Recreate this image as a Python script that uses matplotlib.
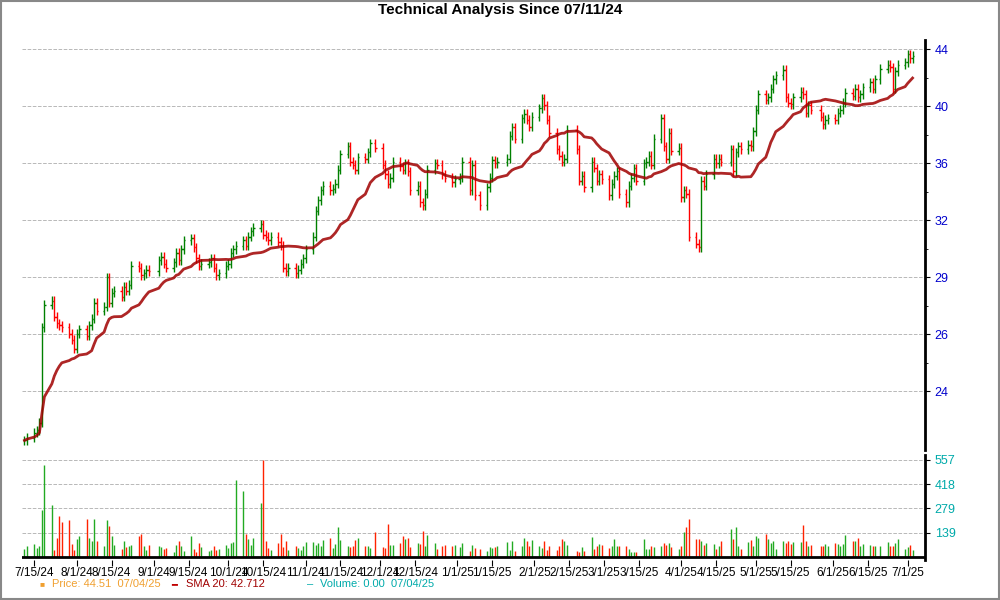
import numpy as np
import pandas as pd
import matplotlib
matplotlib.use("Agg")
import matplotlib.pyplot as plt
import matplotlib.dates as mdates

plt.rcParams["font.family"] = ["Liberation Sans", "DejaVu Sans"]

# daily closes (Jul 2024 -> Jul 2025)
close_jul24 = [21.9, 22.0, 22.2, 22.3, 22.6, 26.8, 27.9, 28.1, 27.3, 27.0, 26.9, 26.8, 26.5, 26.2, 25.8]
close_aug24 = [26.5, 26.7, 26.4, 26.9, 27.2, 28.0, 27.6, 27.8, 29.3, 28.0, 28.5, 28.6, 28.3, 28.8, 28.6,
               28.9, 29.9, 29.8, 29.4, 29.5, 29.7, 29.6]
close_sep24 = [30.2, 30.4, 30.0, 29.8, 30.1, 30.6, 30.2, 30.8, 31.3, 31.4, 30.9, 30.3, 29.9, 30.0, 30.1,
               30.3, 29.8, 29.4, 29.5, 29.9]
close_oct24 = [30.0, 30.6, 30.8, 31.0, 31.3, 31.0, 31.5, 31.8, 32.0, 32.2, 31.6, 31.5, 31.3, 31.5, 31.2,
               31.0, 29.8, 29.6, 29.8, 29.5, 29.7, 30.0, 30.3]
close_nov24 = [30.8, 31.5, 33.0, 33.6, 34.2, 34.5, 34.2, 34.3, 34.6, 35.5, 36.5, 37.0, 36.0, 35.8, 35.5,
               36.3, 36.2, 36.6, 37.2, 36.9]
close_dec24 = [35.8, 35.2, 34.6, 35.0, 36.0, 35.7, 35.5, 35.9, 35.4, 34.2, 34.5, 33.5, 33.3, 34.0, 35.5,
               35.9, 35.8, 35.2, 35.0, 34.7, 34.9]
close_jan25 = [35.0, 36.0, 34.2, 35.8, 33.9, 33.3, 34.4, 35.0, 36.1, 35.9, 36.0, 36.2, 37.7, 38.3, 37.5,
               38.9, 39.2, 38.8, 38.3, 39.0]
close_feb25 = [39.6, 40.3, 39.8, 38.8, 37.9, 36.8, 36.4, 36.0, 36.2, 38.1, 36.8, 34.8, 35.1, 34.4, 36.0,
               35.6, 34.8, 35.2, 34.9]
close_mar25 = [33.9, 34.6, 35.1, 35.4, 34.0, 33.5, 34.5, 35.0, 35.6, 34.8, 35.9, 36.0, 36.4, 35.8, 37.5,
               38.9, 37.0, 36.2, 37.9, 36.7, 36.9]
close_apr25 = [33.8, 34.2, 34.0, 31.5, 31.1, 30.9, 34.8, 34.5, 35.2, 36.2, 35.9, 36.2, 36.0, 36.8, 35.4,
               36.6, 37.0, 36.8, 37.1, 37.0, 38.0]
close_may25 = [39.5, 40.6, 40.2, 40.4, 41.0, 41.7, 42.0, 42.4, 40.4, 40.0, 39.9, 40.4, 40.8, 40.6, 39.3,
               39.8, 39.5, 39.0, 38.5, 38.8, 38.9]
close_jun25 = [38.8, 39.3, 39.5, 40.0, 40.7, 40.5, 41.0, 40.4, 40.6, 41.1, 41.5, 41.0, 41.7, 42.5, 42.8,
               42.6, 41.0, 42.3, 42.8, 43.0]
close_jul25 = [43.6, 43.3, 43.5]

# volume (thousands), one per day, same order
vol_jul24 = [45, 60, 75, 50, 65, 270, 528, 300, 40, 110, 235, 200, 210, 75, 40]
vol_aug24 = [100, 120, 220, 110, 90, 215, 90, 60, 210, 175, 120, 70, 45, 90, 55, 60, 70, 120, 130, 60, 40, 70]
vol_sep24 = [60, 55, 45, 50, 30, 70, 90, 60, 35, 120, 45, 30, 80, 55, 35, 40, 60, 40, 45, 70]
vol_oct24 = [50, 80, 85, 440, 380, 130, 100, 70, 110, 310, 557, 90, 50, 40, 80, 130, 55, 90, 40, 65, 50, 40, 60]
vol_nov24 = [85, 85, 70, 80, 60, 95, 110, 50, 75, 170, 95, 60, 55, 60, 95, 110, 60, 65, 50, 140]
vol_dec24 = [55, 50, 190, 70, 70, 80, 120, 100, 110, 55, 80, 75, 150, 60, 125, 80, 45, 60, 70, 60, 70]
vol_jan25 = [55, 80, 35, 70, 50, 45, 35, 55, 50, 55, 60, 85, 40, 90, 35, 60, 110, 90, 60, 95]
vol_feb25 = [60, 50, 90, 40, 65, 40, 60, 100, 90, 70, 35, 25, 55, 35, 115, 45, 60, 75, 70]
vol_mar25 = [50, 60, 105, 65, 65, 60, 45, 25, 30, 30, 105, 45, 45, 60, 55, 60, 80, 70, 80, 55, 45]
vol_apr25 = [60, 140, 170, 215, 100, 100, 90, 70, 80, 75, 45, 60, 90, 160, 105, 170, 60, 45, 85, 95, 60]
vol_may25 = [120, 110, 130, 100, 80, 90, 45, 90, 80, 90, 75, 85, 85, 185, 90, 60, 70, 65, 60, 75, 60]
vol_jun25 = [80, 75, 65, 75, 125, 90, 90, 110, 65, 75, 70, 60, 65, 60, 85, 60, 65, 80, 100, 45]
vol_jul25 = [55, 70, 40]

price_ticks = [44, 40, 36, 32, 29, 26, 24]
vol_ticks = [139, 279, 418, 557]

closes = (close_jul24 + close_aug24 + close_sep24 + close_oct24 + close_nov24 + close_dec24
          + close_jan25 + close_feb25 + close_mar25 + close_apr25 + close_may25 + close_jun25 + close_jul25)
vols = (vol_jul24 + vol_aug24 + vol_sep24 + vol_oct24 + vol_nov24 + vol_dec24
        + vol_jan25 + vol_feb25 + vol_mar25 + vol_apr25 + vol_may25 + vol_jun25 + vol_jul25)
n = min(len(closes), len(vols))
closes, vols = closes[:n], vols[:n]

holidays = ["2024-09-02", "2024-11-28", "2024-12-25", "2025-01-01", "2025-01-09", "2025-01-20",
            "2025-02-17", "2025-04-18", "2025-05-26", "2025-06-19"]
dates = pd.bdate_range("2024-07-11", periods=n, freq="C", holidays=holidays)
df = pd.DataFrame({"close": closes, "vol": vols}, index=dates)
df["open"] = df["close"].shift(1).fillna(df["close"])
df["high"] = df[["open", "close"]].max(axis=1) * 1.008
df["low"] = df[["open", "close"]].min(axis=1) * 0.992
df["sma"] = df["close"].rolling(20, min_periods=1).mean()
up = df["close"] >= df["open"]
colors = np.where(up, "#008000", "#ff0000")

fig = plt.figure(figsize=(10, 6), dpi=100)
ax = fig.add_axes([0.022, 0.25, 0.903, 0.683])
axv = fig.add_axes([0.022, 0.067, 0.903, 0.175], sharex=ax)

x = mdates.date2num(df.index)
w = 0.55
ax.vlines(x, df["low"], df["high"], colors=colors, linewidth=1.0)
ax.hlines(df["open"], x - w, x, colors=colors, linewidth=1.0)
ax.hlines(df["close"], x, x + w, colors=colors, linewidth=1.0)
ax.plot(x, df["sma"], color="#a00000", linewidth=2.0, alpha=0.85, zorder=3)

ax.set_yscale("log")
top_px = lambda k: 44 * np.exp(-k * 57 / 561)
ax.set_ylim(44 * np.exp(-401 / 561), 44 * np.exp(9 / 561))
tick_pos = [top_px(k) for k in range(len(price_ticks))]
ax.yaxis.tick_right()
ax.set_yticks(tick_pos)
ax.set_yticklabels([str(t) for t in price_ticks], color="#0000cc", fontsize=9)
ax.yaxis.set_minor_locator(matplotlib.ticker.FixedLocator([top_px(k + 0.5) for k in range(6)]))
ax.yaxis.set_minor_formatter(matplotlib.ticker.NullFormatter())
ax.grid(True, axis="y", linestyle="--", color="#b8b8b8", linewidth=0.7)
for s in ["top", "left", "bottom"]:
    ax.spines[s].set_visible(False)
ax.spines["right"].set_linewidth(2)
ax.tick_params(axis="x", which="both", bottom=False, labelbottom=False)

axv.vlines(x, 0, df["vol"], colors=np.where(up, "#22aa22", "#ff2200"), linewidth=1.0)
axv.set_ylim(-17, 586)
axv.yaxis.tick_right()
axv.set_yticks(vol_ticks)
axv.set_yticklabels([str(t) for t in vol_ticks], color="#00aaaa", fontsize=9)
axv.grid(True, axis="y", linestyle="--", color="#b8b8b8", linewidth=0.7)
axv.axhline(0, color="black", linewidth=2)
for s in ["top", "left", "bottom"]:
    axv.spines[s].set_visible(False)
axv.spines["right"].set_linewidth(2)

tick_dates = pd.to_datetime(["2024-07-15", "2024-08-01", "2024-08-15", "2024-09-01", "2024-09-15",
                             "2024-10-01", "2024-10-15", "2024-11-01", "2024-11-15", "2024-12-01",
                             "2024-12-15", "2025-01-01", "2025-01-15", "2025-02-01", "2025-02-15",
                             "2025-03-01", "2025-03-15", "2025-04-01", "2025-04-15", "2025-05-01",
                             "2025-05-15", "2025-06-01", "2025-06-15", "2025-07-01"])
axv.set_xticks(mdates.date2num(tick_dates))
axv.set_xticklabels([f"{d.month}/{d.day}/{d.strftime('%y')}" for d in tick_dates], fontsize=8.5)
axv.tick_params(axis="x", length=4, pad=1)
axv.set_xlim(mdates.date2num(pd.Timestamp("2024-07-10")), mdates.date2num(pd.Timestamp("2025-07-08")))

fig.suptitle("Technical Analysis Since 07/11/24", y=0.995, fontsize=11, fontweight="bold")
ly = 0.026
fig.text(0.039, ly, "■", color="#f0a030", fontsize=6, va="center")
fig.text(0.052, ly, "Price: 44.51  07/04/25", color="#f0a030", fontsize=8, va="center")
fig.text(0.171, ly, "━", color="#c00000", fontsize=7, va="center")
fig.text(0.186, ly, "SMA 20: 42.712", color="#a00000", fontsize=8, va="center")
fig.text(0.307, ly, "–", color="#00aaaa", fontsize=8, va="center")
fig.text(0.320, ly, "Volume: 0.00  07/04/25", color="#00aaaa", fontsize=8, va="center")
fig.patches.append(plt.Rectangle((0.001, 0.001), 0.998, 0.998, transform=fig.transFigure,
                                 fill=False, edgecolor="#888888", linewidth=1.5))

fig.savefig("out.png", dpi=100)
